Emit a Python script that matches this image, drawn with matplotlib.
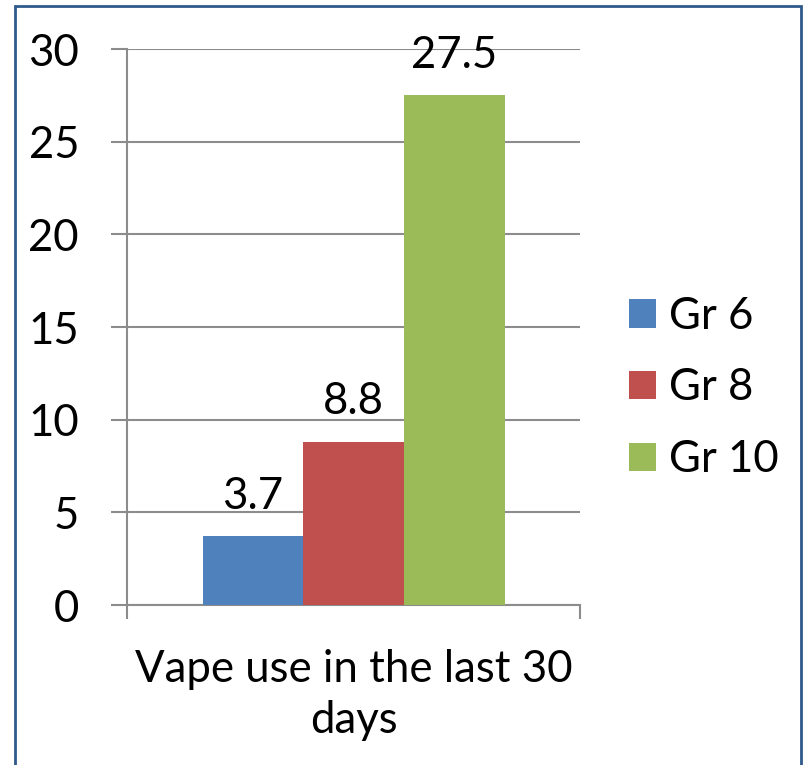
import matplotlib.pyplot as plt
from matplotlib.patches import Rectangle

# dados do gráfico
series = ["Gr 6", "Gr 8", "Gr 10"]
values = [3.7, 8.8, 27.5]
colors = ["#4F81BD", "#C0504D", "#9BBB59"]
category = "Vape use in the last 30\ndays"
yticks = [0, 5, 10, 15, 20, 25, 30]

plt.rcParams['font.family'] = ['Lato', 'DejaVu Sans']
fs = 31.5
grid_c = "#8C8C8C"

fig = plt.figure(figsize=(8.04, 7.65), dpi=100)
ax = fig.add_axes([127 / 804, 1 - 605 / 765, (580 - 127) / 804, (605 - 49) / 765])

# moldura azul em volta do gráfico
fig.patches.append(Rectangle((15 / 804, -0.02), (801 - 15) / 804, 1.02 - 6 / 765,
                             transform=fig.transFigure, fill=False,
                             edgecolor="#2E5A8C", linewidth=2))

pos = [-1, 0, 1]
for i in range(len(series)):
    b = ax.bar(pos[i], values[i], width=1.0, color=colors[i], label=series[i], zorder=3)
    ax.bar_label(b, labels=[str(values[i])], padding=14, fontsize=fs)

ax.set_xlim(-2.25, 2.25)
ax.set_ylim(0, 30)
ax.set_yticks(yticks)
ax.yaxis.grid(True, color=grid_c, linewidth=1.5, zorder=0)
ax.tick_params(axis='y', labelsize=fs, length=11.5, width=1.5, color=grid_c, pad=23)

ax.set_xticks([])
ax.set_xticks([-2.25, 2.25], minor=True)
ax.tick_params(axis='x', which='minor', length=10, width=1.5, color=grid_c)
ax.set_xlabel(category, fontsize=fs, labelpad=18, linespacing=1.3)

for s in ["top", "right"]:
    ax.spines[s].set_visible(False)
for s in ["left", "bottom"]:
    ax.spines[s].set_color(grid_c)
    ax.spines[s].set_linewidth(1.5)

leg = ax.legend(loc="center left", bbox_to_anchor=(629 / 804, 1 - 388 / 765),
                bbox_transform=fig.transFigure, frameon=False, fontsize=fs,
                handlelength=0.62, handleheight=0.62, handletextpad=0.3,
                labelspacing=0.7, borderpad=0, borderaxespad=0)

fig.savefig("out.png", dpi=100)
